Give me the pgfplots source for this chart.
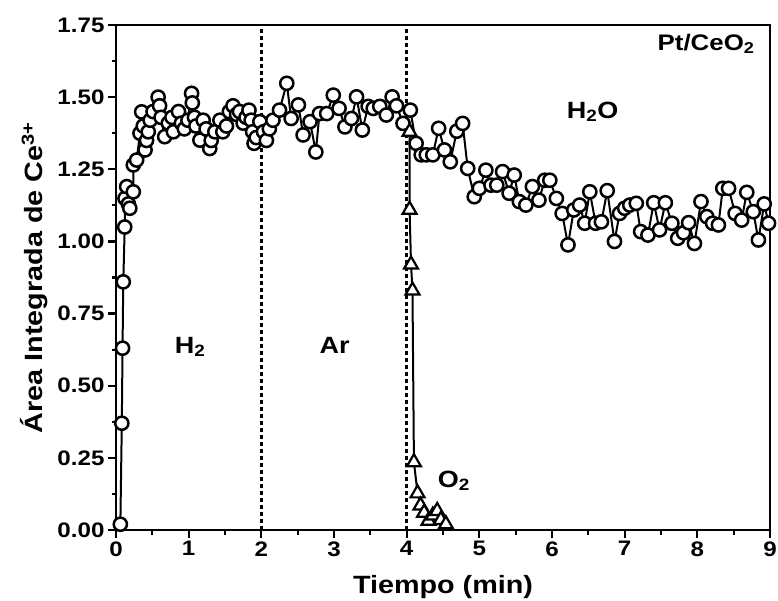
\documentclass[border=0pt]{standalone}
\usepackage{fontspec}
\setmainfont{Liberation Sans}[FakeStretch=1.15]
\usepackage{pgfplots}
\pgfplotsset{compat=1.18}
\usepackage{pgfplotstable}

\pgfplotstableread{
x y
0.06 0.02
0.08 0.37
0.09 0.63
0.10 0.86
0.12 1.05
0.124 1.149
0.147 1.19
0.17 1.13
0.19 1.115
0.238 1.172
0.238 1.265
0.284 1.282
0.33 1.375
0.353 1.449
0.375 1.40
0.40 1.317
0.42 1.35
0.444 1.38
0.47 1.42
0.51 1.45
0.58 1.50
0.60 1.47
0.62 1.43
0.67 1.363
0.72 1.41
0.77 1.43
0.79 1.38
0.86 1.45
0.90 1.41
0.94 1.39
0.99 1.42
1.04 1.513
1.05 1.48
1.08 1.43
1.10 1.40
1.155 1.351
1.20 1.42
1.24 1.39
1.29 1.322
1.31 1.35
1.36 1.38
1.43 1.42
1.47 1.38
1.52 1.40
1.56 1.45
1.61 1.47
1.66 1.44
1.70 1.45
1.75 1.41
1.79 1.43
1.83 1.455
1.86 1.42
1.88 1.38
1.90 1.34
1.93 1.36
1.98 1.415
2.03 1.38
2.07 1.35
2.11 1.39
2.16 1.42
2.25 1.455
2.35 1.548
2.41 1.426
2.51 1.473
2.575 1.369
2.67 1.415
2.75 1.31
2.80 1.443
2.90 1.443
2.99 1.507
3.07 1.461
3.15 1.397
3.24 1.426
3.31 1.501
3.39 1.386
3.47 1.468
3.54 1.461
3.63 1.468
3.72 1.438
3.80 1.501
3.86 1.47
3.95 1.409
4.05 1.455
4.13 1.340
4.20 1.30
4.27 1.30
4.36 1.30
4.44 1.392
4.52 1.317
4.60 1.276
4.69 1.382
4.77 1.409
4.84 1.253
4.93 1.155
5.00 1.184
5.09 1.247
5.16 1.195
5.24 1.195
5.32 1.242
5.41 1.167
5.48 1.23
5.55 1.138
5.64 1.126
5.73 1.19
5.82 1.143
5.90 1.212
5.97 1.212
6.06 1.149
6.14 1.097
6.22 0.988
6.30 1.109
6.38 1.126
6.45 1.063
6.52 1.172
6.60 1.063
6.68 1.068
6.76 1.176
6.86 1.00
6.93 1.097
7.00 1.115
7.07 1.126
7.16 1.132
7.22 1.034
7.32 1.022
7.40 1.134
7.48 1.04
7.56 1.134
7.65 1.063
7.73 1.011
7.81 1.03
7.88 1.065
7.96 0.993
8.05 1.138
8.13 1.086
8.21 1.063
8.29 1.057
8.35 1.184
8.43 1.184
8.52 1.097
8.61 1.074
8.68 1.17
8.77 1.103
8.84 1.005
8.92 1.13
8.98 1.063
}\ceria

\pgfplotstableread{
x y
4.04 1.38
4.04 1.11
4.06 0.92
4.08 0.83
4.10 0.235
4.15 0.127
4.19 0.085
4.24 0.06
4.30 0.032
4.36 0.05
4.42 0.066
4.47 0.035
4.54 0.02
}\oxy

\begin{document}
\begin{tikzpicture}
\begin{axis}[
  scale only axis,
  width=654pt, height=505pt,
  xmin=0, xmax=9, ymin=0, ymax=1.75,
  xtick={0,1,...,9},
  ytick={0,0.25,...,1.75},
  minor x tick num=1,
  minor y tick num=1,
  tick align=outside,
  xtick pos=left, ytick pos=left,
  major tick length=8pt,
  minor tick length=4.5pt,
  every tick/.style={black, line width=2.2pt},
  axis line style={line width=2.8pt},
  /pgf/number format/assume math mode=true,
  yticklabel style={/pgf/number format/fixed, /pgf/number format/fixed zerofill, /pgf/number format/precision=2},
  tick label style={font=\fontsize{21}{24}\selectfont\bfseries},
  every axis x label/.style={at={([yshift=-63pt]axis description cs:0.5,0)}, anchor=base, font=\fontsize{25}{28}\selectfont\bfseries},
  every axis y label/.style={at={([xshift=-73pt]axis description cs:0,0.5)}, rotate=90, anchor=base, font=\fontsize{25}{28}\selectfont\bfseries},
  xlabel={Tiempo (min)},
  ylabel={Área Integrada de Ce\textsuperscript{3+}},
  clip=false,
]
\addplot[black, line width=2.5pt, dash pattern=on 4pt off 3pt] coordinates {(2,0) (2,1.75)};
\addplot[black, line width=2.5pt, dash pattern=on 4pt off 3pt] coordinates {(4,0) (4,1.75)};
\addplot[black, line width=2pt, mark=*, mark size=6.6pt, mark options={fill=white, draw=black, line width=2.5pt, solid}] table[x=x, y=y] {\ceria};
\addplot[black, line width=2pt, mark=triangle*, mark size=8pt, mark options={fill=white, draw=black, line width=2.2pt, solid}] table[x=x, y=y] {\oxy};
\node[anchor=base, font=\fontsize{23.5}{26}\selectfont\bfseries] at (axis cs:1.02,0.613) {H\textsubscript{2}};
\node[anchor=base, font=\fontsize{23.5}{26}\selectfont\bfseries] at (axis cs:3.01,0.613) {Ar};
\node[anchor=base, font=\fontsize{23.5}{26}\selectfont\bfseries] at (axis cs:4.65,0.149) {O\textsubscript{2}};
\node[anchor=base, font=\fontsize{23.5}{26}\selectfont\bfseries] at (axis cs:6.56,1.427) {H\textsubscript{2}O};
\node[anchor=base, font=\fontsize{22.5}{26}\selectfont\bfseries] at (axis cs:8.12,1.663) {Pt/CeO\textsubscript{2}};
\end{axis}
\pgfresetboundingbox
\path ([shift={(-116pt,-70pt)}]current axis.south west) rectangle ([shift={(8pt,25pt)}]current axis.north east);
\end{tikzpicture}
\end{document}
